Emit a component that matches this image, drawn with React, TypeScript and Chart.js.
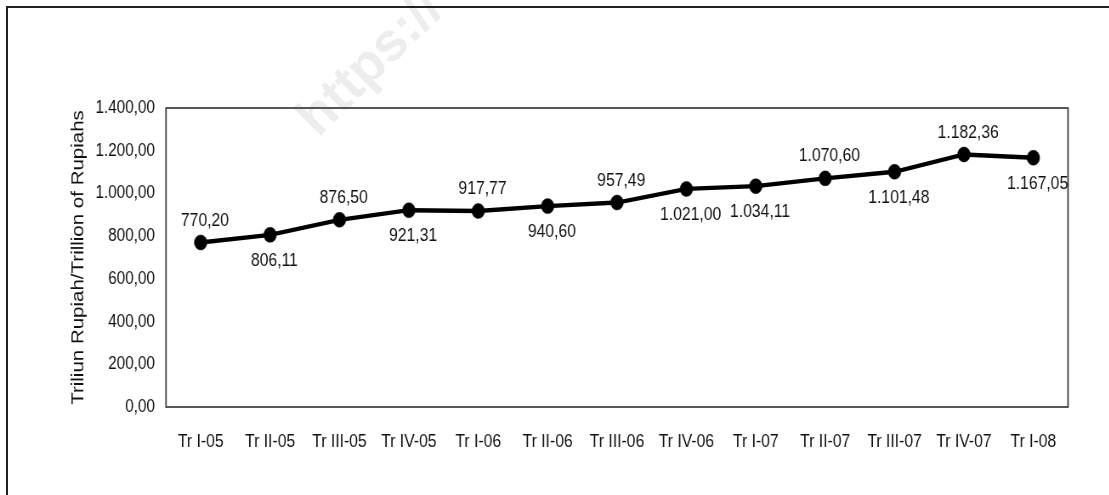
import { useEffect, useRef } from "react";
import { Chart, registerables } from "chart.js";

Chart.register(...registerables);

// Quarterly series, trillion rupiah
const quarters = [
  "Tr I-05", "Tr II-05", "Tr III-05", "Tr IV-05",
  "Tr I-06", "Tr II-06", "Tr III-06", "Tr IV-06",
  "Tr I-07", "Tr II-07", "Tr III-07", "Tr IV-07",
  "Tr I-08",
];
const values = [
  770.2, 806.11, 876.5, 921.31,
  917.77, 940.6, 957.49, 1021.0,
  1034.11, 1070.6, 1101.48, 1182.36,
  1167.05,
];
// where each value label sits relative to its point
const labelSides = [
  "above", "below", "above", "below",
  "above", "below", "above", "below",
  "below", "above", "below", "above",
  "below",
];
const yMin = 0;
const yMax = 1400;
const yStep = 200;
const axisTitle = "Triliun Rupiah/Trillion of Rupiahs";
const watermark = "https://";

// The drawing is rendered wide and pressed horizontally, giving the narrow lettering.
const SQUEEZE = 0.85;
const VIEW_W = 1109;
const VIEW_H = 495;
const CANVAS_W = Math.round(VIEW_W / SQUEEZE);

const FONT = "'Liberation Sans', Arial, sans-serif";

// 1400 -> "1.400,00"
function fmt(v: number): string {
  const [whole, dec] = v.toFixed(2).split(".");
  return whole.replace(/\B(?=(\d{3})+(?!\d))/g, ".") + "," + dec;
}

const plotBox = {
  id: "plotBox",
  beforeDatasetsDraw(chart: any) {
    const { ctx, chartArea } = chart;
    ctx.save();
    ctx.strokeStyle = "#3a3a3a";
    ctx.lineWidth = 1.7;
    ctx.strokeRect(chartArea.left, chartArea.top, chartArea.right - chartArea.left, chartArea.bottom - chartArea.top);
    ctx.restore();
  },
};

const valueLabels = {
  id: "valueLabels",
  afterDatasetsDraw(chart: any) {
    const { ctx } = chart;
    const meta = chart.getDatasetMeta(0);
    ctx.save();
    ctx.font = `18.5px ${FONT}`;
    ctx.fillStyle = "#111";
    ctx.textAlign = "center";
    ctx.textBaseline = "middle";
    meta.data.forEach((pt: any, i: number) => {
      const dy = labelSides[i] === "above" ? -22 : 26;
      ctx.fillText(fmt(values[i]), pt.x + 5, pt.y + dy);
    });
    ctx.restore();
  },
};

export default function App() {
  const canvasRef = useRef<HTMLCanvasElement | null>(null);

  useEffect(() => {
    const canvas = canvasRef.current;
    if (!canvas) return;
    const chart = new Chart(canvas, {
      type: "line",
      data: {
        labels: quarters,
        datasets: [
          {
            data: values,
            borderColor: "#000",
            borderWidth: 4.3,
            backgroundColor: "#000",
            pointRadius: 7.5,
            pointBorderWidth: 0.5,
            pointBackgroundColor: "#000",
            pointBorderColor: "#000",
            tension: 0,
            fill: false,
          },
        ],
      },
      options: {
        responsive: false,
        animation: false,
        events: [],
        layout: { padding: { left: 74, top: 108, right: 48.5, bottom: 0 } },
        plugins: {
          legend: { display: false },
          title: { display: false },
          tooltip: { enabled: false },
        },
        scales: {
          x: {
            offset: true,
            grid: { display: false, drawTicks: false },
            border: { display: false },
            ticks: {
              color: "#111",
              padding: 24,
              maxRotation: 0,
              autoSkip: false,
              font: { family: FONT, size: 18.5 },
            },
            afterFit(scale: any) {
              scale.height = 88;
            },
          },
          y: {
            min: yMin,
            max: yMax,
            grid: { display: false, drawTicks: false },
            border: { display: false },
            ticks: {
              stepSize: yStep,
              color: "#111",
              padding: 13,
              font: { family: FONT, size: 18 },
              callback: (v: any) => fmt(Number(v)),
            },
            title: {
              display: true,
              text: axisTitle,
              color: "#111",
              padding: { top: 6, bottom: 0 },
              font: { family: FONT, size: 20.5 },
            },
            afterFit(scale: any) {
              scale.width = 121.3;
            },
          },
        },
      },
      plugins: [plotBox, valueLabels],
    });
    return () => chart.destroy();
  }, []);

  return (
    <div
      style={{
        position: "fixed",
        left: 0,
        top: 0,
        width: VIEW_W,
        height: VIEW_H,
        overflow: "hidden",
        background: "#fff",
      }}
    >
      <div
        style={{
          position: "absolute",
          left: 324,
          top: 90,
          lineHeight: "54px",
          fontFamily: FONT,
          fontWeight: 700,
          fontSize: 54,
          color: "#ededed",
          whiteSpace: "nowrap",
          transform: "rotate(-45deg)",
          transformOrigin: "0 100%",
        }}
      >
        {watermark}
      </div>
      <div
        style={{
          position: "absolute",
          left: 6,
          top: 6,
          width: 1200,
          height: 600,
          borderLeft: "2px solid #222",
          borderTop: "2px solid #222",
        }}
      />
      <canvas
        ref={canvasRef}
        width={CANVAS_W}
        height={VIEW_H}
        style={{
          position: "absolute",
          left: 0,
          top: 0,
          width: CANVAS_W,
          height: VIEW_H,
          transform: `scaleX(${SQUEEZE})`,
          transformOrigin: "0 0",
        }}
      />
    </div>
  );
}
